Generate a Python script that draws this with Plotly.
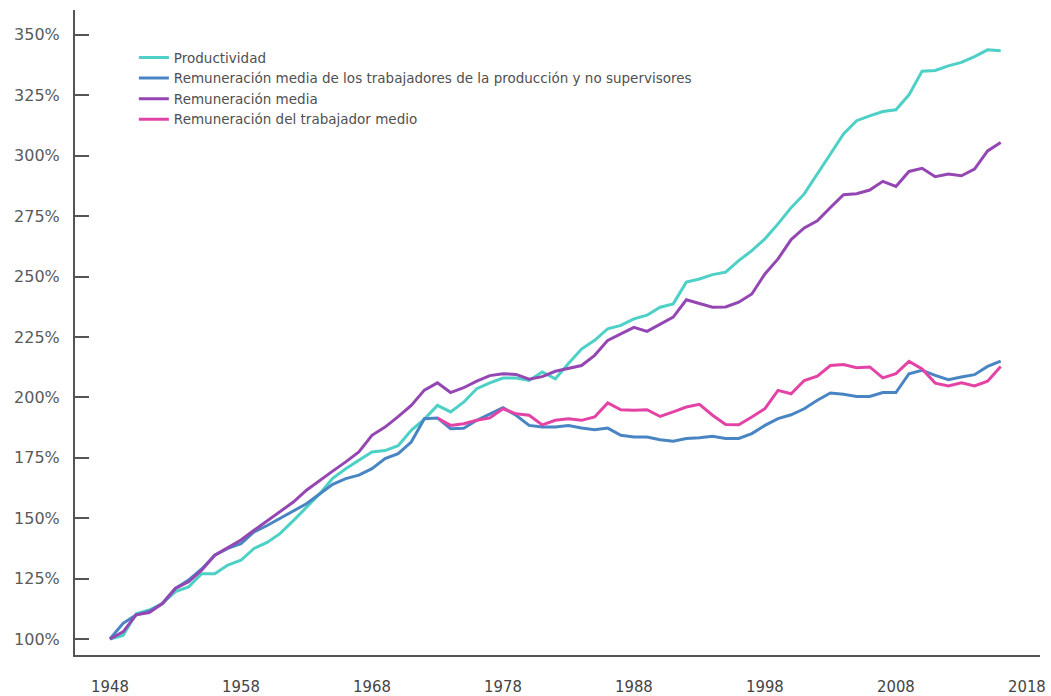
import plotly.graph_objects as go

years = list(range(1948, 2017))
pink_years = list(range(1973, 2017))

productividad = [
    100, 101.5, 110.5, 112, 114.7, 119.6, 121.6, 127, 127, 130.6, 132.6, 137.5,
    140, 143.7, 149, 154.7, 160, 166.5, 170.5, 174, 177.4, 178,
    180, 186.4, 191, 196.7, 194, 198, 203.6, 206, 208, 208,
    207, 210.5, 207.7, 214, 220, 223.6, 228.4, 229.8, 232.5, 234,
    237.3, 238.7, 247.7, 249, 250.8, 251.8, 256.6, 260.7, 265.6, 271.8,
    278.5, 284.2, 292.7, 300.7, 309, 314.5, 316.5, 318.3, 319, 325.2,
    335, 335.3, 337.2, 338.6, 341, 343.8, 343.4,
]

rem_produccion = [
    100, 106.5, 110, 111.5, 114.7, 121, 124.4, 129, 134.7, 137.5, 139.5, 144.3,
    147, 150, 153.3, 156, 160, 164, 166.4, 167.8, 170.5, 174.7,
    176.7, 181.5, 191.2, 191.5, 187, 187.2, 190.5, 193.2, 195.7, 192.6,
    188.4, 187.7, 187.7, 188.4, 187.3, 186.6, 187.3, 184.3, 183.6, 183.6,
    182.5, 181.9, 183, 183.3, 183.9, 183, 183, 185, 188.4, 191.2,
    192.8, 195.3, 198.8, 201.8, 201.3, 200.4, 200.4, 202, 202, 209.8,
    211.2, 209.1, 207.3, 208.4, 209.4, 212.8, 215,
]

rem_media = [
    100, 103, 110, 111, 114.7, 121, 123.7, 128.5, 134.7, 138, 141, 145,
    149, 153, 156.7, 161.6, 165.7, 169.5, 173.3, 177.4, 184.3, 187.7,
    192, 196.7, 203, 206, 202, 204, 206.7, 209, 209.8, 209.5,
    207.5, 208.6, 210.8, 211.9, 213.2, 217.4, 223.6, 226.3, 229, 227.3,
    230.4, 233.2, 240.4, 238.7, 237.3, 237.4, 239.4, 242.8, 251.1, 257.3,
    265.3, 270.1, 273.1, 278.6, 283.9, 284.3, 285.8, 289.4, 287.3, 293.5,
    294.8, 291.3, 292.4, 291.7, 294.5, 302, 305.5,
]

rem_trabajador_medio = [
    191.5, 188.4, 189.1, 190.5, 191.5, 195.3, 193.2, 192.6, 188.6, 190.5,
    191.2, 190.5, 191.9, 197.7, 194.9, 194.7, 194.9, 192.1, 194, 196,
    197.1, 192.6, 188.8, 188.7, 191.9, 195.3, 202.9, 201.5, 207, 208.8,
    213.2, 213.6, 212.3, 212.6, 208.1, 209.8, 214.9, 211.8, 205.9, 204.7,
    206, 204.7, 206.7, 212.8,
]

names = [
    "Productividad",
    "Remuneración media de los trabajadores de la producción y no supervisores",
    "Remuneración media",
    "Remuneración del trabajador medio",
]
colors = ["#4DD0C6", "#4A85C3", "#9447B2", "#E443A6"]

y_ticks = [100, 125, 150, 175, 200, 225, 250, 275, 300, 325, 350]
y_labels = [f"{v}%" for v in y_ticks]
x_ticks = [1948, 1958, 1968, 1978, 1988, 1998, 2008, 2018]

fig = go.Figure()
series = [
    (years, productividad),
    (years, rem_produccion),
    (years, rem_media),
    (pink_years, rem_trabajador_medio),
]
for (xs, ys), name, col in zip(series, names, colors):
    fig.add_trace(go.Scatter(
        x=xs, y=ys, name=name, mode="lines",
        line=dict(color=col, width=3),
    ))

axis_col = "#555555"
narrow = "Liberation Sans Narrow, DejaVu Sans Condensed, sans-serif"
fig.update_layout(
    width=1051, height=696, autosize=False,
    margin=dict(l=75, r=11, t=10, b=41, autoexpand=False),
    paper_bgcolor="white", plot_bgcolor="white",
    showlegend=True,
    legend=dict(
        x=0.061, y=0.95, xanchor="left", yanchor="top",
        font=dict(family="DejaVu Sans, sans-serif", size=13.5, color="#505050"),
        bgcolor="rgba(0,0,0,0)", itemwidth=30, tracegroupgap=0,
    ),
    xaxis=dict(
        range=[1945.33, 2019.0], showgrid=False, zeroline=False,
        showline=True, linecolor=axis_col, linewidth=2, automargin=False,
        tickvals=x_ticks, ticks="", ticklabelstandoff=15,
        tickfont=dict(family=narrow, size=16.5, color="#444444"),
    ),
    yaxis=dict(
        range=[93.4, 360.3], showgrid=False, zeroline=False,
        showline=True, linecolor=axis_col, linewidth=2, automargin=False,
        tickvals=y_ticks, ticktext=y_labels,
        ticks="inside", ticklen=14, tickwidth=2, tickcolor=axis_col,
        ticklabelstandoff=10,
        tickfont=dict(family="DejaVu Sans, sans-serif", size=16, color="#5a5a5a"),
    ),
)

fig.write_html(
    "out.html",
    config={"displayModeBar": False},
    post_script="document.body.style.margin='0';document.body.style.overflow='hidden';",
)
